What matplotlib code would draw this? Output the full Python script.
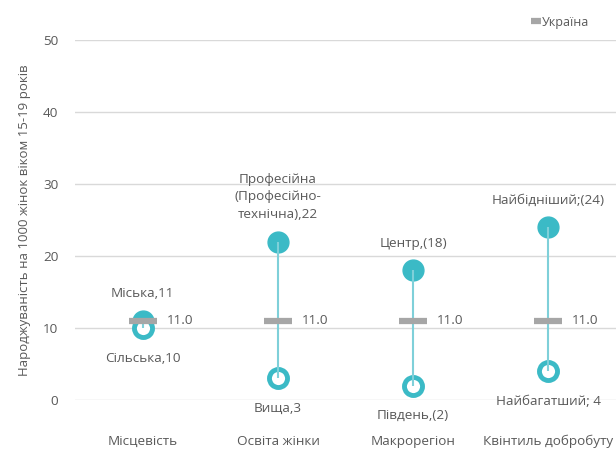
import numpy as np
import matplotlib
matplotlib.use("Agg")
import matplotlib.pyplot as plt

plt.rcParams['font.family'] = ['Open Sans', 'DejaVu Sans']

# data
categories = ['Місцевість', 'Освіта жінки', 'Макрорегіон', 'Квінтиль добробуту']
high = [11, 22, 18, 24]
low = [10, 3, 2, 4]
ukraine = [11.0, 11.0, 11.0, 11.0]
high_labels = ['Міська,11', 'Професійна\n(Професійно-\nтехнічна),22', 'Центр,(18)', 'Найбідніший;(24)']
low_labels = ['Сільська,10', 'Вища,3', 'Південь,(2)', 'Найбагатший; 4']
yticks = [0, 10, 20, 30, 40, 50]

teal = '#3bbac6'
teal_line = '#7fd0d9'
grey = '#a6a6a6'
text_c = '#595959'

fig = plt.figure(figsize=(6.16, 4.51), dpi=100)
ax = fig.add_axes([0.122, 0.113, 0.878, 0.798])

x = np.arange(len(categories))

ax.plot(x, high, 'o', ms=15, color=teal, mec=teal, zorder=3, clip_on=False)
ax.plot(x, low, 'o', ms=13, mfc='white', mec=teal, mew=3.5, zorder=4, clip_on=False)
ax.vlines(x, low, high, color=teal_line, lw=1.5, zorder=5)
ax.plot(x, ukraine, '_', ms=20, mew=4.5, color=grey, zorder=6, label='Україна')

for i in range(len(x)):
    ax.annotate(high_labels[i], (x[i], high[i]), xytext=(0, 15), textcoords='offset points',
                ha='center', va='bottom', fontsize=9.7, color=text_c, linespacing=1.45)
    ax.annotate(low_labels[i], (x[i], low[i]), xytext=(0, -17), textcoords='offset points',
                ha='center', va='top', fontsize=9.7, color=text_c)
    ax.annotate('%.1f' % ukraine[i], (x[i], ukraine[i]), xytext=(17, 0), textcoords='offset points',
                ha='left', va='center', fontsize=9.7, color=text_c)

ax.set_xlim(-0.5, len(x) - 0.5)
ax.set_ylim(0, 50)
ax.set_yticks(yticks)
ax.set_xticks(x)
ax.set_xticklabels(categories)
ax.tick_params(length=0, labelsize=9.7, colors=text_c)
ax.tick_params(axis='x', pad=25)
ax.tick_params(axis='y', pad=12)
ax.grid(axis='y', color='#d9d9d9', lw=1)
ax.set_axisbelow(True)
for s in ax.spines.values():
    s.set_visible(False)

ax.set_ylabel('Народжуваність на 1000 жінок віком 15-19 років', fontsize=9.5, color=text_c, labelpad=9)

leg = fig.legend(loc='upper right', bbox_to_anchor=(0.975, 0.99), frameon=False, fontsize=9,
                 handlelength=0.5, handletextpad=0.2, markerscale=0.35)
for t in leg.get_texts():
    t.set_color(text_c)

fig.savefig('out.png', dpi=100)
